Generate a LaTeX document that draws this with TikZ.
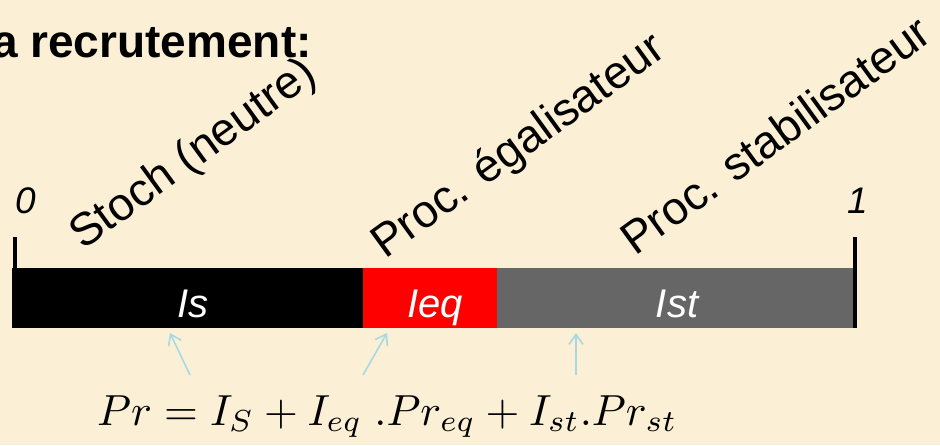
\documentclass[tikz,border=0pt]{standalone}
\usepackage{fontspec}
\setmainfont{Liberation Sans}
\usetikzlibrary{arrows.meta}
\definecolor{parch}{RGB}{251,240,213}
\definecolor{barred}{RGB}{255,0,0}
\definecolor{bargray}{RGB}{102,102,102}
\definecolor{arrowblue}{RGB}{168,216,228}
\tikzset{
  seg/.style={draw=none, minimum height=60pt, inner sep=0pt, outer sep=0pt},
  seglabel/.style={anchor=base, text=white, inner sep=0pt,
    font=\fontsize{40}{44}\selectfont\itshape},
  rotlabel/.style={anchor=base west, rotate=36, inner sep=0pt,
    font=\fontsize{46}{50}\selectfont},
  endlabel/.style={anchor=base, inner sep=0pt, font=\fontsize{37}{40}\selectfont\itshape},
  tick/.style={line width=4.5pt},
  pointer/.style={arrowblue, line width=1.6pt, -{Straight Barb[length=10pt,width=14pt,line width=1.6pt]}}
}
\begin{document}
\begin{tikzpicture}[x=1pt,y=-1pt]
\useasboundingbox (0,0) rectangle (940,445);
\fill[parch] (0,0) rectangle (940,445);
\begin{scope}
\clip (0,0) rectangle (940,445);
\node[anchor=base west, inner sep=0pt, font=\fontsize{46}{50}\selectfont\bfseries] (title) at (-8,57) {a recrutement:};
\end{scope}
% bar segments
\node[seg, fill=black, minimum width=351pt, anchor=north west] (is) at (12,268) {};
\node[seg, fill=barred, minimum width=134pt, anchor=north west] (ieq) at (363,268) {};
\node[seg, fill=bargray, minimum width=356pt, anchor=north west] (ist) at (497,268) {};
\node[seglabel] (lis) at (193,317) {Is};
\node[seglabel] (lieq) at (435,317) {Ieq};
\node[seglabel] (list) at (677,317) {Ist};
% ticks
\coordinate (t0top) at (15,237);
\coordinate (t0bot) at (15,328);
\coordinate (t1top) at (855,237);
\coordinate (t1bot) at (855,328);
\draw[tick] (t0top) -- (t0bot);
\draw[tick] (t1top) -- (t1bot);
\node[endlabel] (zero) at (26,213) {0};
\node[endlabel] (one) at (858,213) {1};
% rotated labels
\node[rotlabel] (stoch) at (83,251) {Stoch (neutre)};
\node[rotlabel] (egal) at (385,260) {Proc. égalisateur};
\node[rotlabel] (stab) at (635,257) {Proc. stabilisateur};
% formula
\node[anchor=base west, inner sep=0pt] (formula) at (97,425)
  {\resizebox{580pt}{!}{$Pr = I_S + I_{eq}\ .Pr_{eq} + I_{st}.Pr_{st}$}};
% pointers
\coordinate (a1s) at (190,375); \coordinate (a1e) at (170,333);
\coordinate (a2s) at (363,375); \coordinate (a2e) at (387,333);
\coordinate (a3s) at (576,375); \coordinate (a3e) at (576,333);
\draw[pointer] (a1s) -- (a1e);
\draw[pointer] (a2s) -- (a2e);
\draw[pointer] (a3s) -- (a3e);
\end{tikzpicture}
\end{document}
